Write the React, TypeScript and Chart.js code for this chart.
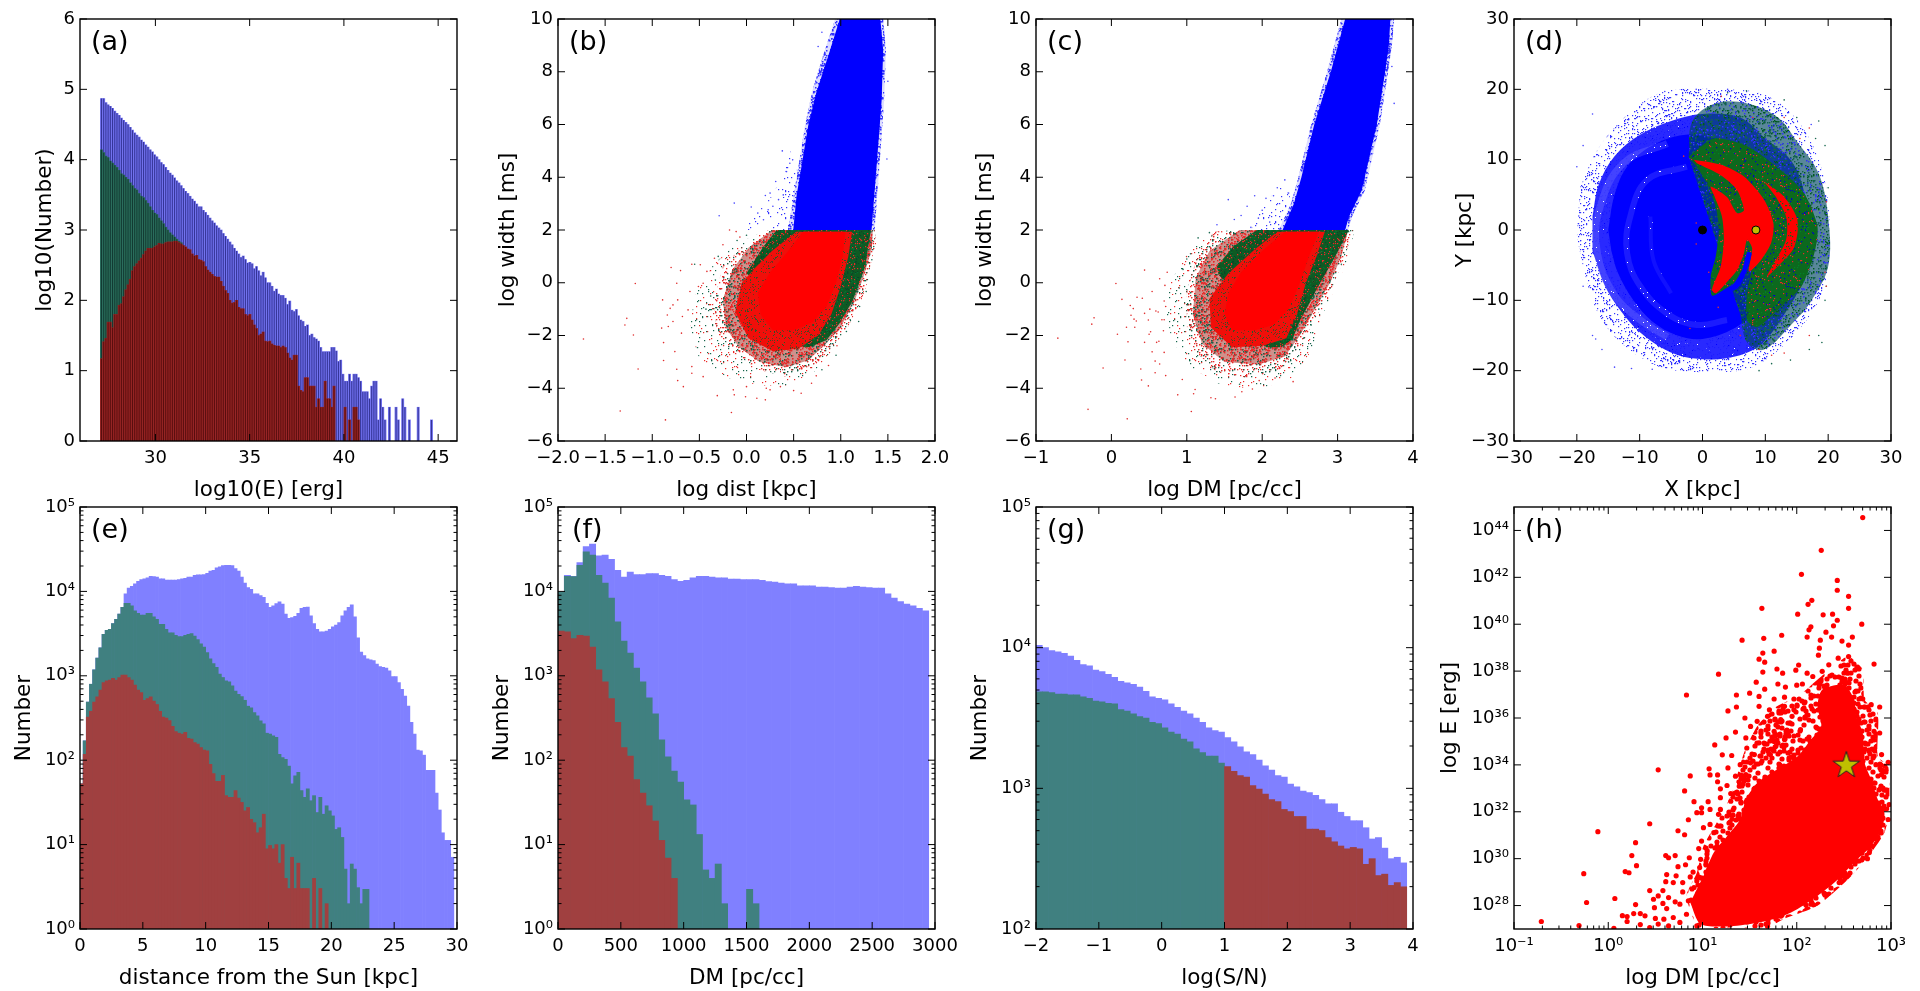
import React, { useEffect, useRef } from "react";
import { Chart, registerables } from "chart.js";

Chart.register(...registerables);

const FONT = "'DejaVu Sans'";

/* ---------- panel (a): log10(count) per energy bin ---------- */
const energyStart = 27.08;
const energyBin = 0.1175;
const energyBlue = [
  4.87,4.87,4.81,4.78,4.76,4.73,4.69,4.66,4.63,4.59,
  4.56,4.53,4.50,4.46,4.42,4.38,4.35,4.32,4.28,4.25,
  4.21,4.18,4.14,4.11,4.07,4.04,4.00,3.96,3.93,3.89,
  3.85,3.81,3.78,3.74,3.70,3.67,3.63,3.59,3.55,3.52,
  3.48,3.44,3.41,3.37,3.33,3.33,3.28,3.25,3.21,3.17,
  3.13,3.10,3.06,3.03,3.00,2.95,2.91,2.87,2.83,2.79,
  2.74,2.70,2.66,2.61,2.63,2.58,2.53,2.54,2.52,2.45,
  2.48,2.42,2.35,2.40,2.32,2.25,2.25,2.20,2.13,2.16,
  2.09,2.07,2.07,2.03,1.94,1.99,1.86,1.84,1.87,1.78,
  1.72,1.70,1.63,1.65,1.50,1.52,1.47,1.45,1.42,1.33,
  1.27,1.27,1.27,1.27,1.33,1.33,1.28,1.13,1.15,.95,
  .85,.85,.95,.85,.95,.95,.90,.85,.70,.70,
  .70,.60,.78,.85,.85,.30,.60,.48,.30,0,
  .48,0,0,.48,.30,0,.60,.48,0,.30,
  0,0,0,.48,0,0,0,0,0,.30,
];
const energyGreen = [
  4.14,4.10,4.05,4.03,3.98,3.95,3.92,3.89,3.85,3.80,
  3.78,3.75,3.72,3.67,3.63,3.59,3.57,3.52,3.48,3.46,
  3.42,3.38,3.33,3.28,3.24,3.22,3.17,3.13,3.09,3.04,
  3.00,2.96,2.93,2.90,2.87,2.84,2.82,
];
const energyRed = [
  1.17,1.41,1.46,1.69,1.69,1.61,1.80,1.80,1.93,1.95,
  2.05,2.15,2.22,2.30,2.42,2.48,2.52,2.56,2.60,2.65,
  2.70,2.74,2.74,2.74,2.76,2.78,2.81,2.80,2.80,2.82,
  2.83,2.83,2.83,2.84,2.84,2.82,2.80,2.78,2.76,2.73,
  2.72,2.66,2.63,2.64,2.58,2.57,2.55,2.48,2.43,2.40,
  2.37,2.34,2.33,2.33,2.27,2.20,2.14,2.10,2.00,1.96,
  1.97,2.00,1.90,1.88,1.88,1.80,1.78,1.80,1.72,1.65,
  1.60,1.50,1.52,1.55,1.42,1.41,1.42,1.38,1.36,1.35,
  1.35,1.33,1.35,1.33,1.25,1.18,1.15,1.22,1.22,.78,
  .72,.70,.90,.90,.78,.78,.78,.48,.60,.48,
  .48,.85,.60,.60,.48,.78,0,0,0,0,
  .48,0,.30,0,.48,.48,.30,
];

/* ---------- panel (e): log10(count) per distance bin ---------- */
const distStart = 0;
const distBin = 0.25;
const distBlue = [
  1.72,2.23,2.69,2.90,3.07,3.21,3.33,3.49,3.54,3.55,3.62,3.67,3.73,3.81,3.97,4.04,4.06,4.09,4.12,4.14,
  4.15,4.16,4.18,4.175,4.17,4.15,4.15,4.135,4.135,4.135,4.135,4.14,4.15,4.155,4.17,4.17,4.19,4.195,4.195,4.20,
  4.215,4.24,4.25,4.28,4.29,4.305,4.31,4.31,4.305,4.27,4.24,4.17,4.10,4.045,4.025,3.97,3.97,3.95,3.93,3.86,
  3.81,3.83,3.855,3.875,3.85,3.73,3.68,3.69,3.705,3.74,3.80,3.81,3.815,3.71,3.62,3.55,3.52,3.52,3.53,3.55,
  3.58,3.60,3.63,3.71,3.77,3.81,3.84,3.70,3.45,3.28,3.24,3.20,3.19,3.18,3.14,3.11,3.10,3.09,3.06,2.99,
  2.99,2.92,2.84,2.76,2.64,2.45,2.31,2.12,2.11,2.06,1.88,1.88,1.88,1.61,1.41,1.14,1.05,1.05,.85,
];
const distGreen = [
  1.72,2.23,2.69,2.90,3.07,3.21,3.33,3.49,3.54,3.55,3.62,3.67,3.73,3.81,3.86,3.86,3.83,3.77,3.74,3.72,
  3.72,3.74,3.74,3.70,3.67,3.61,3.61,3.55,3.51,3.51,3.48,3.465,3.465,3.48,3.49,3.50,3.47,3.43,3.38,3.34,
  3.275,3.20,3.145,3.10,3.02,2.98,2.94,2.93,2.88,2.82,2.78,2.755,2.71,2.64,2.62,2.565,2.525,2.465,2.43,2.32,
  2.31,2.29,2.27,2.07,2.03,2.01,1.93,1.72,1.815,1.855,1.64,1.56,1.66,1.52,1.58,1.38,1.56,1.36,1.46,1.40,
  1.34,1.18,1.20,1.085,.71,.30,.77,.71,.49,.30,.47,.47,
];
const distRed = [
  1.72,2.07,2.51,2.58,2.69,2.75,2.83,2.92,2.94,2.95,2.97,2.95,2.98,3.01,3.01,2.98,2.95,2.89,2.83,2.80,
  2.71,2.73,2.75,2.70,2.66,2.58,2.51,2.50,2.47,2.40,2.34,2.32,2.31,2.33,2.26,2.25,2.21,2.19,2.15,2.12,
  2.11,1.95,1.84,1.75,1.75,1.82,1.58,1.56,1.56,1.64,1.55,1.50,1.40,1.44,1.30,1.26,1.14,1.20,1.36,.95,
  .99,.95,1.00,.78,1.00,.60,.48,.85,.48,.78,.48,.48,.48,0,.60,0,.48,0,.30,
];

/* ---------- panel (f): log10(count) per DM bin ---------- */
const dmStart = 0;
const dmBin = 50;
const dmBlue = [
  3.99,4.19,4.18,4.34,4.53,4.56,4.42,4.43,4.38,4.25,4.17,4.23,4.20,4.20,4.21,4.21,4.19,4.18,4.14,4.12,
  4.13,4.16,4.18,4.18,4.17,4.16,4.16,4.145,4.145,4.14,4.14,4.14,4.13,4.116,4.11,4.10,4.09,4.09,4.065,4.065,
  4.065,4.05,4.05,4.045,4.04,4.04,4.05,4.06,4.05,4.045,4.04,4.04,3.97,3.92,3.88,3.85,3.83,3.80,3.77,
];
const dmGreen = [
  3.99,4.18,4.175,4.31,4.47,4.43,4.19,4.10,3.92,3.64,3.41,3.27,3.09,2.93,2.74,2.55,2.24,2.04,1.87,1.74,
  1.53,1.47,1.12,.70,.60,.77,.30,0,0,0,.47,.30,
];
const dmRed = [
  3.53,3.52,3.44,3.48,3.47,3.34,3.07,2.93,2.73,2.45,2.15,2.05,1.77,1.61,1.46,1.28,1.05,.84,.60,
];

/* ---------- panel (g): log10(count) per S/N bin ---------- */
const snrStart = -2;
const snrBin = 0.1;
const snrBlue = [
  4.017,4.00,3.98,3.97,3.96,3.94,3.91,3.88,3.87,3.84,3.83,3.81,3.79,3.76,3.75,3.74,3.72,3.69,3.65,3.64,
  3.63,3.60,3.575,3.55,3.53,3.50,3.47,3.43,3.41,3.40,3.36,3.33,3.295,3.26,3.24,3.20,3.16,3.13,3.09,3.08,
  3.03,3.01,2.98,2.97,2.95,2.92,2.89,2.89,2.83,2.80,2.77,2.77,2.72,2.64,2.65,2.575,2.50,2.51,2.47,
];
const snrGreen = [
  3.686,3.686,3.68,3.67,3.67,3.665,3.665,3.65,3.64,3.62,3.615,3.605,3.60,3.56,3.55,3.53,3.51,3.50,3.47,3.46,
  3.43,3.40,3.385,3.35,3.33,3.28,3.255,3.23,3.23,3.18,
];
const snrRedFrom = 30;
const snrRed = [
  3.155,3.12,3.09,3.08,3.02,2.995,2.96,2.92,2.905,2.85,2.835,2.80,2.80,2.71,2.71,2.70,2.65,2.62,2.59,2.57,
  2.58,2.57,2.46,2.50,2.38,2.39,2.31,2.33,2.30,
];

/* ---------- panel (b): log dist vs log width, cloud outlines and lone points ---------- */
type Pair = [number, number];
const distWidthBlueSparse: Pair[] = [[-.05,2],[.1,2.6],[.25,3.2],[.36,3.9],[.47,5],[.55,4],[.52,2]];
const distWidthBlueHalo: Pair[] = [[.44,2],[.5,3.3],[.55,4.4],[.62,5.96],[.7,7.3],[.82,8.7],[.94,10],[1.45,10],[1.48,8.8],[1.46,6.9],[1.41,4.4],[1.36,2]];
const distWidthBlueCore: Pair[] = [[.496,2],[.53,3.27],[.584,4.43],[.655,5.96],[.74,7.2],[.867,8.6],[.99,10],[1.42,10],[1.45,8.83],[1.434,6.93],[1.38,4.41],[1.327,2]];
const distWidthSparse: Pair[] = [[.21,2],[1.36,2],[1.38,1.3],[1.3,.2],[1.22,-.65],[1.06,-1.79],[.88,-2.7],[.71,-3.4],[.42,-3.9],[.14,-3.9],[-.2,-3.6],[-.5,-2.9],[-.6,-1.7],[-.55,-.5],[-.35,.7],[-.1,1.5]];
const distWidthMid: Pair[] = [[.21,2],[1.36,2],[1.36,1.37],[1.29,.24],[1.22,-.65],[1.06,-1.79],[.88,-2.55],[.71,-3.18],[.42,-3.56],[.14,-3.31],[-.14,-2.67],[-.32,-1.79],[-.35,-.65],[-.25,.62],[-.04,1.37]];
const distWidthInner: Pair[] = [[.27,2],[1.34,2],[1.33,1.3],[1.24,.2],[1.15,-.65],[1,-1.7],[.82,-2.4],[.65,-2.95],[.42,-3.2],[.14,-3],[-.08,-2.45],[-.22,-1.7],[-.25,-.65],[-.15,.5],[.03,1.35]];
const distWidthGreenCore: Pair[] = [[.32,2],[1.32,2],[1.26,.62],[1.13,-.65],[.99,-1.53],[.85,-2.17],[.67,-2.45],[.5,-2.4],[.4,-1],[.05,.2],[0,.36],[.18,1.37]];
const distWidthRedMix: Pair[] = [[.53,1.93],[1.12,1.93],[1.08,1],[1,-.14],[.9,-1.2],[.76,-2],[.55,-2.5],[.28,-2.6],[.02,-2.1],[-.12,-1.1],[-.05,0],[.1,.6],[.27,1.2],[.42,1.63]];
const distWidthRedCore: Pair[] = [[.6,1.93],[1.05,1.93],[1.02,1],[.95,0],[.85,-.9],[.7,-1.5],[.5,-1.8],[.28,-1.8],[.15,-1.2],[.12,-.4],[.25,.4],[.42,1.1]];
const distWidthBlueDots: Pair[] = [[-.29,2.54],[-.13,3.02],[.05,2.87],[.2,3.31],[.25,3.4],[.31,3.84],[.42,4.22],[.38,5],[.12,2.64],[.18,2.39],[.23,2.77],[.28,2.9],[.34,3.15],[.39,3.33],[.46,4.53],[.49,4.66],[1.49,4.69],[1.5,7.64],[.8,9.5],[.76,8.96]];
const distWidthRedDots: Pair[] = [[-1.73,-2.13],[-1.34,-4.86],[-1.27,-1.35],[-1.29,-1.6],[-1.15,-3.27],[-1.2,-1.98],[-1.18,-.03],[-.86,-5.2],[-.16,-4.92],[-.8,.58],[-.89,-.65],[-.88,-2.95],[-.88,-2.27],[-.9,-1.72],[-.83,-1.66],[-.81,-.97],[-.78,-.84],[-.84,-1.22],[-.78,-1.47],[-.7,.46],[-.74,-.02],[-.73,-.65],[-.74,-3.28],[-.73,-3.71],[-.67,-3.94],[-.76,-2.61],[-.69,-1.91],[-.68,-1.28],[-.6,-.33],[-.62,-1.03],[-.58,-3.18],[-.58,-3.43],[-.46,-3.56],[-.49,.68],[-.58,.7],[-.42,.43],[-.51,-.14],[-.46,-.02],[-.31,-4.28],[-.14,-4.06],[-.13,-4.25],[-.01,-4.32],[.11,-4.38],[.2,-4.44],[0,-3.94],[.21,-4],[.25,-4.06],[.58,-4.19],[.5,-4.09],[.36,-3.94],[.69,-3.81],[.74,-3.53],[.87,-3.14],[.96,-2.39],[-.34,.93],[-.25,1.44],[-.18,2],[-.11,1.94],[-.07,1.73]];
const distWidthGreenDots: Pair[] = [[1.19,-1.47],[1.06,-1.85],[1.27,-.33],[1.35,1.37],[1.33,.87],[-.55,.7],[-.33,.1],[-.38,-.5],[-.43,-1],[-.3,1],[-.1,1.6],[0,1.8],[1.2,-.9],[1.1,-1.4],[.95,-2.75],[.8,-3.3]];

/* ---------- panel (c): log DM vs log width ---------- */
const dmWidthBlueSparse: Pair[] = [[1.85,2],[1.95,2.6],[2.1,3.2],[2.25,3.8],[2.38,3.2],[2.3,2]];
const dmWidthBlueHalo: Pair[] = [[2.22,2],[2.38,3],[2.48,4],[2.65,6],[2.86,8],[3.05,10],[3.75,10],[3.72,9],[3.67,8],[3.56,6],[3.44,4.5],[3.36,3.5],[3.19,2.5],[3.14,2]];
const dmWidthBlueCore: Pair[] = [[2.27,2],[2.42,3],[2.52,4],[2.69,6],[2.91,8],[3.1,10],[3.7,10],[3.68,9],[3.63,8],[3.52,6],[3.4,4.5],[3.32,3.5],[3.15,2.5],[3.1,2]];
const dmWidthSparse: Pair[] = [[1.55,2],[1.2,1.6],[.95,.9],[.78,0],[.72,-1],[.8,-2.2],[1.05,-3.2],[1.5,-3.95],[2,-4],[2.4,-3.6],[2.65,-2.6],[2.8,-1.2],[3,0],[3.15,1],[3.22,2]];
const dmWidthMid: Pair[] = [[1.36,1.95],[1.13,.88],[1,-.25],[1,-1.64],[1.13,-2.64],[1.4,-3.4],[1.89,-3.65],[2.24,-3.27],[2.51,-2.39],[2.75,-1.1],[2.95,0],[3.1,1],[3.2,2]];
const dmWidthInner: Pair[] = [[1.7,2],[1.3,1.2],[1.12,.2],[1.08,-1.2],[1.2,-2.3],[1.5,-3],[1.95,-3.1],[2.3,-2.8],[2.5,-2],[2.7,-1],[2.9,0],[3.05,1],[3.14,2]];
const dmWidthGreenCore: Pair[] = [[1.93,2],[3.15,2],[2.95,.9],[2.73,-.2],[2.64,-.7],[2.51,-1.38],[2.4,-2.14],[2.25,-2.45],[2.05,-2.45],[1.9,-1],[1.42,.3],[1.4,.63],[1.62,1.38]];
const dmWidthRedMix: Pair[] = [[2.2,1.93],[2.83,1.93],[2.72,1],[2.58,0],[2.46,-1.2],[2.32,-2.1],[2,-2.4],[1.6,-2.45],[1.32,-1.7],[1.3,-.6],[1.55,.35],[1.9,1.26]];
const dmWidthRedCore: Pair[] = [[2.3,1.93],[2.75,1.93],[2.62,1],[2.5,0],[2.35,-1],[2.15,-1.6],[1.9,-1.8],[1.6,-1.8],[1.5,-1.2],[1.55,-.4],[1.72,.4],[2,1.2]];
const dmWidthBlueDots: Pair[] = [[1.4,2.2],[1.55,3.15],[1.63,2.4],[1.72,2.55],[1.8,2.9],[1.85,2.1],[1.9,3.3],[1.95,2.45],[2,2.75],[2.05,3.2],[2.1,2.3],[2.15,3.3],[2.2,3.6],[2.3,3.9],[2.35,3.4],[3.75,6.8],[3.72,8.2]];
const dmWidthRedDots: Pair[] = [[-.71,-2.1],[-.23,-1.33],[-.26,-1.57],[-.11,-3.23],[-.31,-4.8],[.21,-5.16],[.06,-.03],[.08,-1.95],[.14,-.63],[.22,-2.24],[.2,-1.69],[.18,-2.93],[.25,-.86],[.29,-.98],[.26,-1.23],[.3,-1.38],[.33,-1.45],[.31,-1.69],[.34,-.55],[.41,-.59],[.44,.48],[.44,-1.16],[.49,-1.41],[.54,-.33],[.51,-1],[.39,-3.27],[.4,-3.69],[.49,-3.91],[.58,-3.41],[.58,-2.97],[.54,-2.62],[.44,-2.26],[.5,-1.95],[.52,-1.86],[.6,-2.26],[.63,-2.22],[.59,-1.07],[.62,-1.11],[.71,-.1],[.74,.4],[.64,.15],[.7,-.69],[.72,-.9],[.67,-1.4],[.7,-1.4],[.69,-1.82],[.7,-2.64],[.64,-3.08],[.72,-3.52],[.88,-4.25],[.94,-3.67],[1.06,-4.88],[1.09,-4.21],[1.11,-4.05],[1.32,-4.36],[1.38,-4.4],[1.64,-4.33],[1.73,-4.13],[1.87,-4.03],[1.96,-3.71],[2.17,-3.61],[2.41,-3.75]];
const dmWidthGreenDots: Pair[] = [[1.15,1.7],[1.3,1.9],[1,.9],[.95,.5],[.9,-.2],[1.05,1.1],[2.55,-2.1],[2.65,-1.6],[2.75,-1],[2.9,-.2],[3.05,.7],[2.35,-3],[1.7,-3.85]];

/* ---------- panel (d): galactic plane, kpc ---------- */
const planeBlueHalo: Pair[] = [[-19.5,6],[-17,11],[-13,15.5],[-8,19],[-4,20],[3,20],[9,19.5],[13,17.5],[16,14.5],[18.5,10],[20,4],[20,-5],[18.5,-10],[15,-14.5],[10,-18.5],[6,-20],[-4,-20],[-8,-19],[-13,-16],[-16.5,-12],[-18.5,-7],[-20,-1]];
const planeBlueMid: Pair[] = [[-17.5,2],[-16.5,6.5],[-14,10.5],[-10,13.5],[-5,15.5],[0,16.5],[6,16],[10,13],[14,10],[16,6],[17,0],[16,-7],[13,-12],[9,-16.5],[4,-18.2],[-2,-18.2],[-6,-17],[-10,-14.5],[-13,-11.5],[-15.5,-8],[-17.5,-3]];
const planeBlueCore: Pair[] = [[-15,0],[-14,5],[-12,9],[-8,12],[-3,13.5],[2,13],[8,10],[12,5],[13,0],[12,-6],[9,-11],[5,-14],[0,-15.5],[-4,-15],[-8,-13],[-11,-10],[-13.5,-6],[-14.5,-3]];
const planeRingOuter: Pair[] = [[-5.6,12.3],[-12.6,9.5],[-16.3,3.3],[-16.8,-2.8],[-14.2,-9],[-9.9,-12.8],[-5.6,-15.2]];
const planeRingMiddle: Pair[] = [[-2.5,9],[-8.8,7.1],[-11.5,1.9],[-12,-3.3],[-9.9,-8],[-5.6,-11.9],[-.9,-13.5],[3.9,-12.8]];
const planeRingInner: Pair[] = [[-8.3,1.9],[-7.8,-4.3],[-5,-9]];
const planeGreenHalo: Pair[] = [[-2.2,10.4],[-1.6,15.5],[2,18],[7.1,18],[12,16],[15.1,12.5],[18.5,8],[20,1.9],[20,-5.2],[17,-10.5],[14.6,-13],[9.8,-17],[7.1,-16],[6,-12]];
const planeGreenCore: Pair[] = [[-2.2,10.4],[1.8,13],[7.1,11.9],[12.5,8.5],[16.2,5.2],[18.3,.5],[17.8,-3.3],[15.7,-8.1],[12.5,-10.9],[8.7,-13.8],[7.1,-12.8],[7.1,-9],[7.7,-6.2],[7.9,-3.3],[7.1,-3.3],[6.1,-6.6],[3.4,-8.5],[1.5,-9.3],[1.3,-6.6],[2.1,-3.8],[2.6,0],[2.1,3.3],[.7,6.6],[-.9,9]];
const planeRedMain: Pair[] = [[-1.4,10],[2.9,9.3],[6.6,7.6],[9.8,4.3],[11.3,.9],[10.9,-1.9],[9.3,-4.3],[7.4,-5.9],[7.9,-2.6],[7.1,-1.4],[6.6,-3.3],[5.5,-5.7],[3.7,-7.6],[2.1,-9],[1.5,-8.5],[2.9,-5.2],[3.4,-1.4],[3.1,1.9],[1.8,5],[1.3,6.2],[3.9,4.7],[5.5,2.4],[6.6,2.8],[5.5,5.7],[2.9,7.8],[-.9,9.5]];
const planeRedOuter: Pair[] = [[9.8,6.9],[13,4.7],[15.1,1.4],[14.6,-2.4],[12.5,-4.7],[10.3,-6.6],[11.4,-4.7],[13.3,-1.4],[13.3,1.9],[11.7,4.7]];
const planeBlueArm: Pair[] = [[7.1,-3.1],[7.8,-3.3],[7.1,-5.7],[5.8,-8.1],[3.7,-9],[2.9,-8.9],[5,-7.6],[6.3,-5.7]];
const planeBlueDots: Pair[] = [[-17.5,16.5],[-19,12],[-20,9],[-19.7,2],[-19,-8],[-17.5,-15],[-16,-17],[-8,-19.8],[-6,19.7],[-1,20],[4,20],[-14,-19.5],[-11.3,-19.7],[-17,-15.5],[17.3,15]];
const planeGreenDots: Pair[] = [[13,18.5],[15,16],[18.5,15.5],[19.5,12],[20,6],[20,-4],[19.5,-10],[19,-16],[18.5,-15],[17,-17],[14,-18.5],[11,-19],[9,-20],[4,19.5],[7,19.8],[18,13],[19.7,-8]];
const planeRedDots: Pair[] = [[17,14.5],[15.5,13],[13,16],[19.5,-6],[19.7,4],[19.7,-8],[17,-15],[13,-17.5],[9,-17],[11,-17.8],[6,-15],[-2,-14],[-3,10.5],[-1,1],[-1,-2],[1,-6],[2.5,-11],[3,19],[8,16]];
const planeCentre: Pair[] = [[0, 0]];
const planeSun: Pair[] = [[8.5, 0]];

/* ---------- panel (h): log10 DM, log10 E ---------- */
const energyDmScatter: Pair[] = [[.94,27.04],[.83,28.41],[.94,29.4],[1.01,30.54],[1.15,31.53],[1.3,32.67],[1.44,34.51],[1.58,35.65],[1.79,36.5],[2.01,36.92],[2.26,37.77],[2.54,38.62],[2.7,38.06],[2.72,36.78],[2.86,36.21],[2.86,34.37],[2.97,33.94],[2.98,31.96],[2.93,31.11],[2.79,30.26],[2.58,29.26],[2.22,27.99],[1.86,27.42],[1.69,27.03]];
const energyDmCore: Pair[] = [[1.01,29.26],[1.12,30.26],[1.26,30.96],[1.4,31.67],[1.46,32.52],[1.58,33.23],[1.79,33.8],[2.01,34.37],[2.15,35.08],[2.26,35.65],[2.22,36.5],[2.27,37.2],[2.5,37.42],[2.61,36.78],[2.63,36.07],[2.7,35.36],[2.72,34.09],[2.79,33.38],[2.86,32.52],[2.93,31.96],[2.9,31.25],[2.79,30.54],[2.68,30.11],[2.54,29.55],[2.4,28.98],[2.22,28.41],[1.94,27.7],[1.69,27.35],[1.33,27.13],[.98,27.2],[.87,28.13]];
const energyDmDots: Pair[] = [[2.70,44.55],[2.26,43.15],[2.05,42.13],[2.43,41.87],[2.43,41.45],[2.55,41.19],[2.16,41.02],[2.12,40.85],[1.63,40.68],[2.55,40.68],[2.01,40.43],[2.28,40.4],[2.38,40.43],[2.43,40.17],[2.69,40],[2.39,39.93],[2.15,39.89],[2.13,39.76],[2.31,39.66],[1.84,39.53],[1.65,39.4],[2.11,39.45],[1.42,39.32],[2.59,39.45],[2.25,39.32],[2.37,39.45],[2.48,39.28],[2.24,38.98],[2.55,39.11],[1.76,38.85],[1.64,38.77],[2.23,38.68],[1.6,38.51],[1.66,38.38],[2.82,38.3],[2.02,38.26],[2.55,38.62],[2.44,38.55],[1.99,38.04],[1.79,38.09],[1.64,37.96],[1.85,37.91],[1.17,37.87],[2.11,37.91],[2.66,38.09],[2.34,38.27],[2.27,37.99],[2.54,37.91],[1.57,37.53],[1.8,37.45],[1.88,37.32],[1.66,37.23],[2,37.4],[2.06,37.45],[2.17,37.77],[.83,36.98],[1.5,37.06],[1.36,36.98],[1.6,36.92],[1.76,36.81],[1.87,36.89],[1.97,36.81],[1.27,36.3],[1.36,36.47],[1.6,36.5],[1.71,36.35],[1.87,36.5],[1.97,36.35],[2.08,36.64],[2.88,36.47],[2.79,36.57],[2.7,36.82],[1.45,36],[1.58,35.86],[1.69,36.07],[1.83,35.93],[1.95,36.07],[1.51,35.64],[2.82,35.43],[2.88,35.36],[1.35,35.4],[1.25,35.15],[1.46,35.15],[1.62,35.36],[1.76,35.43],[1.9,35.36],[2.04,35.5],[1.76,35],[1.87,35.08],[1.6,34.94],[1.13,34.85],[1.47,34.72],[1.21,34.43],[1.31,34.4],[1.55,34.44],[1.72,34.44],[2.9,34.44],[2.82,34.37],[.53,33.79],[1.07,33.83],[1.27,33.87],[1.4,34.01],[1.51,34.09],[2.97,34.11],[2.84,34.01],[.87,33.53],[1.08,33.57],[1.16,33.57],[1.35,33.52],[1.46,33.59],[2.9,33.59],[1.16,33.28],[1.26,33.12],[1.39,33.09],[.81,32.89],[1.19,32.98],[1.3,32.78],[2.93,32.92],[.91,32.43],[1.06,32.43],[1.19,32.6],[1.3,32.45],[.99,32.17],[1.08,32.1],[1.19,32.1],[.94,31.96],[.99,31.96],[1.17,31.89],[1.26,31.82],[.85,31.66],[.44,31.49],[1.08,31.46],[1.01,31.32],[.74,31.19],[.81,31.02],[1.12,31.11],[-.11,31.15],[.29,30.68],[.99,30.75],[.96,30.43],[1.05,30.33],[.25,30.13],[.61,30.13],[.71,30.13],[.64,30.04],[.86,30.04],[.98,29.97],[.3,29.7],[.74,29.66],[.82,29.74],[.97,29.62],[.18,29.45],[.22,29.4],[-.26,29.36],[.9,29.43],[.62,29.32],[.72,29.27],[.87,29.22],[.61,29.02],[.69,28.98],[.79,28.98],[.94,29.05],[.44,28.64],[.58,28.64],[.79,28.58],[.91,28.77],[.07,28.3],[.53,28.41],[.48,28.27],[.64,28.34],[-.23,28.13],[.58,28.09],[.71,28.16],[.29,28.04],[.49,27.91],[.76,28.06],[.62,27.87],[.85,28.2],[.15,27.57],[.27,27.66],[.2,27.53],[.34,27.66],[.39,27.56],[.5,27.45],[.69,27.49],[.59,27.42],[.83,27.63],[-.71,27.32],[.2,27.32],[-.31,27.15],[.34,27.19],[.53,27.21],[.64,27.13],[.06,27.03],[.44,27.06],[.94,27.13],[.76,27.28],[1.01,27.28],[1.33,27.28],[1.69,27.13],[1.83,27.56],[2.15,28.06],[2.45,28.98],[2.54,29.29],[2.75,30],[2.77,30.26],[2.83,30.85],[2.97,31.67],[2.98,32.31]];
const energyDmStar: Pair[] = [[2.526, 34]];

/* ---------- axes ---------- */
const ticksEnergyX = [30, 35, 40, 45];
const ticksZeroToSix = [0, 1, 2, 3, 4, 5, 6];
const ticksDistX = [-2, -1.5, -1, -.5, 0, .5, 1, 1.5, 2];
const ticksWidthY = [-6, -4, -2, 0, 2, 4, 6, 8, 10];
const ticksDmLogX = [-1, 0, 1, 2, 3, 4];
const ticksPlane = [-30, -20, -10, 0, 10, 20, 30];
const ticksSunDist = [0, 5, 10, 15, 20, 25, 30];
const ticksDm = [0, 500, 1000, 1500, 2000, 2500, 3000];
const ticksSnr = [-2, -1, 0, 1, 2, 3, 4];
const powersCount = [0, 1, 2, 3, 4, 5];
const powersCountSnr = [2, 3, 4, 5];
const powersHx = [-1, 0, 1, 2, 3];
const powersHy = [28, 30, 32, 34, 36, 38, 40, 42, 44];

const BLUE = "rgb(128,128,255)";
const TEAL = "rgb(64,128,128)";
const RED = "rgb(160,64,64)";

/* seed offsets of the grain used purely as a fill texture for clouds too dense to plot point by point */
const GRAIN_W = 101, GRAIN_H = 97;
const grainX = [3,17,31,44,9,24,38,6,20,35,13,28,42,1,16,33,46,11,26,40,5,22,36,14,30,43,8,19,34,2,25,41,12,29,45,7,21,37,15,32,0,18,39,10,27,44,4,23,36,13,31,8,42,19,26,2,38,16,33,11];
const grainY = [5,2,8,4,12,15,11,22,19,24,28,31,26,36,38,33,40,41,35,30,1,7,18,10,3,16,27,14,21,32,25,39,6,37,20,9,29,0,17,42,23,34,13,38,12,28,30,4,34,24,16,19,2,41,22,11,36,8,6,33];

function grain(base: string | null, colors: string[], layers: number, size: number) {
  const c = document.createElement("canvas");
  c.width = GRAIN_W; c.height = GRAIN_H;
  const g = c.getContext("2d")!;
  if (base) { g.fillStyle = base; g.fillRect(0, 0, GRAIN_W, GRAIN_H); }
  for (let k = 0; k < layers; k++) {
    grainX.forEach((gx, i) => {
      const gy = grainY[i];
      const x = (gx * (2 * k + 1) + 19 * k * k + gy * k) % GRAIN_W;
      const y = (gy * (2 * k + 3) + 7 * k + gx * (k % 3)) % GRAIN_H;
      g.fillStyle = colors[(i + k) % colors.length];
      if (size > 2) {
        for (const [ox, oy] of [[0, 0], [GRAIN_W, 0], [-GRAIN_W, 0], [0, GRAIN_H], [0, -GRAIN_H]]) {
          g.beginPath(); g.arc(x + ox, y + oy, size, 0, 7); g.fill();
        }
      } else g.fillRect(x, y, size, size);
    });
  }
  return g.createPattern(c, "repeat")!;
}

const SUP: Record<string, string> = { "-": "⁻", "0": "⁰", "1": "¹", "2": "²", "3": "³", "4": "⁴", "5": "⁵", "6": "⁶", "7": "⁷", "8": "⁸", "9": "⁹" };
const powerLabel = (e: number) => "10" + String(e).split("").map((c) => SUP[c]).join("");
const minus = (s: string) => s.replace("-", "−");

function logTicks(powers: number[], minors: boolean) {
  const out: any[] = [];
  powers.forEach((p, i) => {
    out.push({ value: Math.pow(10, p), major: true, label: powerLabel(p) });
    if (minors && i < powers.length - 1) {
      for (let m = 2; m < 10; m++) out.push({ value: m * Math.pow(10, p), major: false, label: "" });
    }
  });
  return out;
}
const linTicks = (vals: number[], digits = 0) =>
  vals.map((v) => ({ value: v, major: true, label: minus(v.toFixed(digits)) }));

const toXY = (list: Pair[]) => list.map(([x, y]) => ({ x, y }));
const toLogXY = (list: Pair[]) => list.map(([x, y]) => ({ x: Math.pow(10, x), y: Math.pow(10, y) }));
const binned = (start: number, width: number, vals: number[], from = 0, log = false) =>
  vals.map((v, i) => ({
    x: start + width * (i + from + 0.5),
    y: log ? (v > 0 ? Math.pow(10, v) : null) : v > 0 ? v : null,
  }));

const poly = (data: any[], color: any, tension = 0) => ({
  data, showLine: true, fill: "shape", backgroundColor: color, borderWidth: 0, pointRadius: 0, tension,
});
const stroke = (data: any[], color: any, width: number) => ({
  data, showLine: true, fill: false, borderColor: color, borderWidth: width, pointRadius: 0, tension: 0.4,
});
const dots = (data: any[], color: string, r = 0.8) => ({
  data, showLine: false, backgroundColor: color, pointRadius: r, pointBorderWidth: 0,
});
const marker = (data: any[], color: string, r: number) => ({
  data, showLine: false, backgroundColor: color, pointRadius: r, pointBorderWidth: 1, pointBorderColor: "#000",
});
const histBar = (data: any[], color: string) => ({ data, backgroundColor: color, grouped: false, barPercentage: 1, categoryPercentage: 1 });
const edgeBar = (data: any[], color: string) => ({ data, backgroundColor: color, grouped: false, barThickness: 1, inflateAmount: 0 });

function starImage(): HTMLCanvasElement {
  const c = document.createElement("canvas");
  c.width = 32; c.height = 32;
  const g = c.getContext("2d")!;
  const spikes = 5, R = 14, r = 5.4;
  g.beginPath();
  for (let i = 0; i < spikes * 2; i++) {
    const a = -Math.PI / 2 + (i * Math.PI) / spikes;
    const d = i % 2 ? r : R;
    g.lineTo(16 + d * Math.cos(a), 16.5 + d * Math.sin(a));
  }
  g.closePath();
  g.fillStyle = "rgb(191,191,0)";
  g.fill();
  g.lineWidth = 1;
  g.strokeStyle = "#222";
  g.stroke();
  return c;
}

const DOT_RED = "rgb(235,40,40)";
const DOT_TEAL = "rgb(20,100,75)";
const DOT_BLUE = "rgb(50,50,255)";

function cloudLayers(s: { blueSparse: Pair[]; blueHalo: Pair[]; blueCore: Pair[]; sparse: Pair[]; mid: Pair[]; inner: Pair[]; green: Pair[]; redMix: Pair[]; red: Pair[]; blueDots: Pair[]; redDots: Pair[]; greenDots: Pair[] }) {
  return [
    poly(toXY(s.blueSparse), grain(null, [DOT_BLUE], 5, 1.2)),
    poly(toXY(s.blueHalo), grain("rgba(120,120,255,0.25)", [DOT_BLUE], 30, 1.5)),
    poly(toXY(s.blueCore), "#0000ff"),
    dots(toXY(s.blueDots), "rgb(70,70,255)"),
    poly(toXY(s.sparse), grain(null, [DOT_RED, DOT_TEAL], 7, 1.2)),
    poly(toXY(s.mid), grain(null, [DOT_RED, DOT_TEAL, DOT_RED], 22, 1.3)),
    poly(toXY(s.inner), grain("rgba(165,55,45,0.55)", [DOT_RED, DOT_TEAL, DOT_RED], 45, 1.4)),
    poly(toXY(s.green), grain("rgb(15,90,35)", [DOT_RED, "rgb(0,115,50)", "rgb(10,70,40)"], 40, 1.2)),
    poly(toXY(s.redMix), grain("rgb(240,15,10)", ["rgb(110,50,30)", "rgb(40,90,40)"], 18, 1)),
    poly(toXY(s.red), "#ff0000"),
    dots(toXY(s.greenDots), "rgb(25,105,80)"),
    dots(toXY(s.redDots), "rgb(225,45,45)"),
  ];
}

interface AxisDef { type: string; min: number; max: number; ticks: any[]; title: string; titleOffset: number }
interface PanelDef { left: number; top: number; letter: string; letterX: number; type: string; datasets: () => any[]; x: AxisDef; y: AxisDef }

const ROW1 = 19, ROW2 = 507;
const COL = [80, 558, 1036, 1514];
const M_L = 80, M_T = 15, M_R = 40, M_B = 60, W = 377, H = 422;
const X_TITLE = 40;

const panels: PanelDef[] = [
  {
    left: COL[0], top: ROW1, letter: "(a)", letterX: 11, type: "bar",
    datasets: () => [
      histBar(binned(energyStart, energyBin, energyBlue), "rgb(112,112,238)"),
      edgeBar(binned(energyStart, energyBin, energyBlue), "rgb(52,52,150)"),
      histBar(binned(energyStart, energyBin, energyGreen), "rgb(42,110,90)"),
      edgeBar(binned(energyStart, energyBin, energyGreen), "rgb(18,58,50)"),
      histBar(binned(energyStart, energyBin, energyRed), "rgb(152,36,36)"),
      edgeBar(binned(energyStart, energyBin, energyRed), "rgb(88,14,14)"),
    ],
    x: { type: "linear", min: 26, max: 46, ticks: linTicks(ticksEnergyX), title: "log10(E) [erg]", titleOffset: 0 },
    y: { type: "linear", min: 0, max: 6, ticks: linTicks(ticksZeroToSix), title: "log10(Number)", titleOffset: 35 },
  },
  {
    left: COL[1], top: ROW1, letter: "(b)", letterX: 11, type: "scatter",
    datasets: () => cloudLayers({
      blueSparse: distWidthBlueSparse, blueHalo: distWidthBlueHalo, blueCore: distWidthBlueCore,
      sparse: distWidthSparse, mid: distWidthMid, inner: distWidthInner, green: distWidthGreenCore, redMix: distWidthRedMix, red: distWidthRedCore,
      blueDots: distWidthBlueDots, redDots: distWidthRedDots, greenDots: distWidthGreenDots,
    }),
    x: { type: "linear", min: -2, max: 2, ticks: linTicks(ticksDistX, 1), title: "log dist [kpc]", titleOffset: 0 },
    y: { type: "linear", min: -6, max: 10, ticks: linTicks(ticksWidthY), title: "log width [ms]", titleOffset: 50 },
  },
  {
    left: COL[2], top: ROW1, letter: "(c)", letterX: 11, type: "scatter",
    datasets: () => cloudLayers({
      blueSparse: dmWidthBlueSparse, blueHalo: dmWidthBlueHalo, blueCore: dmWidthBlueCore,
      sparse: dmWidthSparse, mid: dmWidthMid, inner: dmWidthInner, green: dmWidthGreenCore, redMix: dmWidthRedMix, red: dmWidthRedCore,
      blueDots: dmWidthBlueDots, redDots: dmWidthRedDots, greenDots: dmWidthGreenDots,
    }),
    x: { type: "linear", min: -1, max: 4, ticks: linTicks(ticksDmLogX), title: "log DM [pc/cc]", titleOffset: 0 },
    y: { type: "linear", min: -6, max: 10, ticks: linTicks(ticksWidthY), title: "log width [ms]", titleOffset: 51 },
  },
  {
    left: COL[3], top: ROW1, letter: "(d)", letterX: 11, type: "scatter",
    datasets: () => [
      poly(toXY(planeBlueHalo), grain(null, [DOT_BLUE], 18, 1.2), 0.35),
      poly(toXY(planeBlueMid), grain("rgba(30,30,255,0.95)", ["#0000ff", "#ffffff", "#0000ff", "rgb(110,110,255)"], 3, 1), 0.35),
      poly(toXY(planeBlueCore), "#0000ff", 0.35),
      stroke(toXY(planeRingOuter), grain("rgba(170,170,255,0.2)", ["#ffffff"], 3, 1), 7),
      stroke(toXY(planeRingMiddle), grain("rgba(170,170,255,0.16)", ["#ffffff"], 3, 1), 6),
      stroke(toXY(planeRingInner), grain("rgba(170,170,255,0.1)", ["#ffffff"], 1, 1), 4),
      dots(toXY(planeBlueDots), "rgb(70,70,255)"),
      poly(toXY(planeGreenHalo), grain("rgba(0,70,100,0.65)", [DOT_TEAL, DOT_TEAL, DOT_BLUE, "rgb(0,90,30)"], 30, 1.4), 0.35),
      poly(toXY(planeGreenCore), grain("rgb(12,105,30)", [DOT_RED, "rgb(0,0,200)", "rgb(0,130,40)"], 14, 1.2), 0.25),
      poly(toXY(planeRedMain), "#ff0000", 0.25),
      poly(toXY(planeRedOuter), grain("#ff0000", ["rgb(15,105,30)"], 10, 1.2), 0.3),
      poly(toXY(planeBlueArm), "#0000ff", 0.25),
      dots(toXY(planeGreenDots), "rgb(25,105,80)"),
      dots(toXY(planeRedDots), "rgb(230,50,50)"),
      marker(toXY(planeCentre), "#000000", 4),
      marker(toXY(planeSun), "rgb(191,191,0)", 4),
    ],
    x: { type: "linear", min: -30, max: 30, ticks: linTicks(ticksPlane), title: "X [kpc]", titleOffset: 0 },
    y: { type: "linear", min: -30, max: 30, ticks: linTicks(ticksPlane), title: "Y [kpc]", titleOffset: 49 },
  },
  {
    left: COL[0], top: ROW2, letter: "(e)", letterX: 11, type: "bar",
    datasets: () => [
      histBar(binned(distStart, distBin, distBlue, 0, true), BLUE),
      histBar(binned(distStart, distBin, distGreen, 0, true), TEAL),
      histBar(binned(distStart, distBin, distRed, 0, true), RED),
    ],
    x: { type: "linear", min: 0, max: 30, ticks: linTicks(ticksSunDist), title: "distance from the Sun [kpc]", titleOffset: 0 },
    y: { type: "logarithmic", min: 1, max: 100000, ticks: logTicks(powersCount, true), title: "Number", titleOffset: 56 },
  },
  {
    left: COL[1], top: ROW2, letter: "(f)", letterX: 14, type: "bar",
    datasets: () => [
      histBar(binned(dmStart, dmBin, dmBlue, 0, true), BLUE),
      histBar(binned(dmStart, dmBin, dmGreen, 0, true), TEAL),
      histBar(binned(dmStart, dmBin, dmRed, 0, true), RED),
    ],
    x: { type: "linear", min: 0, max: 3000, ticks: linTicks(ticksDm), title: "DM [pc/cc]", titleOffset: 0 },
    y: { type: "logarithmic", min: 1, max: 100000, ticks: logTicks(powersCount, true), title: "Number", titleOffset: 56 },
  },
  {
    left: COL[2], top: ROW2, letter: "(g)", letterX: 11, type: "bar",
    datasets: () => [
      histBar(binned(snrStart, snrBin, snrBlue, 0, true), BLUE),
      histBar(binned(snrStart, snrBin, snrGreen, 0, true), TEAL),
      histBar(binned(snrStart, snrBin, snrRed, snrRedFrom, true), RED),
    ],
    x: { type: "linear", min: -2, max: 4, ticks: linTicks(ticksSnr), title: "log(S/N)", titleOffset: 0 },
    y: { type: "logarithmic", min: 100, max: 100000, ticks: logTicks(powersCountSnr, true), title: "Number", titleOffset: 56 },
  },
  {
    left: COL[3], top: ROW2, letter: "(h)", letterX: 11, type: "scatter",
    datasets: () => [
      poly(toLogXY(energyDmScatter), grain(null, ["#ff0000"], 6, 2.6), 0.2),
      poly(toLogXY(energyDmCore), "#ff0000", 0.25),
      dots(toLogXY(energyDmDots), "#ff0000", 2.6),
      { data: toLogXY(energyDmStar), showLine: false, pointStyle: starImage(), pointRadius: 14 },
    ],
    x: { type: "logarithmic", min: 0.1, max: 1000, ticks: logTicks(powersHx, true), title: "log DM [pc/cc]", titleOffset: 0 },
    y: { type: "logarithmic", min: 1e27, max: 1e45, ticks: logTicks(powersHy, false), title: "log E [erg]", titleOffset: 64 },
  },
];

function axisOptions(a: AxisDef, horizontal: boolean) {
  const size = 21.5;
  return {
    type: a.type,
    min: a.min,
    max: a.max,
    offset: false,
    grid: { display: false, drawTicks: false },
    border: { display: false },
    afterBuildTicks: (s: any) => { s.ticks = a.ticks.map((t) => ({ ...t })); },
    ticks: {
      autoSkip: false,
      maxRotation: 0,
      minRotation: 0,
      color: "#000",
      padding: horizontal ? 7 : 5,
      font: { family: FONT, size: 18 },
      callback: (_v: any, i: number) => a.ticks[i].label,
    },
    afterFit: (s: any) => {
      if (horizontal) s.height = M_B; else s.width = M_L;
      s.paddingLeft = s.paddingRight = s.paddingTop = s.paddingBottom = 0;
    },
    title: {
      display: true,
      text: a.title,
      color: "#000",
      font: { family: FONT, size, lineHeight: 1 },
      padding: {
        top: horizontal ? M_B - X_TITLE - size / 2 : M_L - a.titleOffset - size / 2,
        bottom: 0,
      },
    },
  };
}

function framePlugin(letter: string, letterX: number) {
  return {
    id: "frame",
    afterDatasetsDraw(chart: any) {
      const { ctx, chartArea: c, scales } = chart;
      ctx.save();
      ctx.strokeStyle = "#000";
      ctx.lineWidth = 1;
      for (const t of scales.x.ticks) {
        const px = scales.x.getPixelForValue(t.value);
        const len = t.major ? 7 : 3.5;
        ctx.beginPath();
        ctx.moveTo(px, c.bottom); ctx.lineTo(px, c.bottom - len);
        ctx.moveTo(px, c.top); ctx.lineTo(px, c.top + len);
        ctx.stroke();
      }
      for (const t of scales.y.ticks) {
        const py = scales.y.getPixelForValue(t.value);
        const len = t.major ? 7 : 3.5;
        ctx.beginPath();
        ctx.moveTo(c.left, py); ctx.lineTo(c.left + len, py);
        ctx.moveTo(c.right, py); ctx.lineTo(c.right - len, py);
        ctx.stroke();
      }
      ctx.lineWidth = 1.4;
      ctx.strokeRect(c.left, c.top, c.right - c.left, c.bottom - c.top);
      ctx.fillStyle = "#000";
      ctx.font = `27px ${FONT}`;
      ctx.textAlign = "left";
      ctx.textBaseline = "middle";
      ctx.fillText(letter, c.left + letterX, c.top + 24);
      ctx.restore();
    },
  };
}

function Panel({ def }: { def: PanelDef }) {
  const ref = useRef<HTMLCanvasElement>(null);
  useEffect(() => {
    const sets = def.datasets();
    sets.forEach((d: any, i: number) => { d.order = sets.length - i; });
    const chart = new Chart(ref.current!, {
      type: def.type as any,
      data: { datasets: sets },
      options: {
        responsive: false,
        animation: false,
        events: [],
        layout: { padding: { left: 0, top: M_T, right: M_R, bottom: 0 } },
        plugins: { legend: { display: false }, tooltip: { enabled: false } },
        scales: { x: axisOptions(def.x, true), y: axisOptions(def.y, false) } as any,
      },
      plugins: [framePlugin(def.letter, def.letterX)],
    });
    return () => chart.destroy();
  }, [def]);
  return (
    <canvas
      ref={ref}
      width={M_L + W + M_R}
      height={M_T + H + M_B}
      style={{ position: "absolute", left: def.left - M_L, top: def.top - M_T, width: M_L + W + M_R, height: M_T + H + M_B }}
    />
  );
}

export default function App() {
  return (
    <div style={{ position: "absolute", left: 0, top: 0, width: 1920, height: 991, background: "#fff", overflow: "hidden" }}>
      {panels.map((p) => <Panel key={p.letter} def={p} />)}
    </div>
  );
}
